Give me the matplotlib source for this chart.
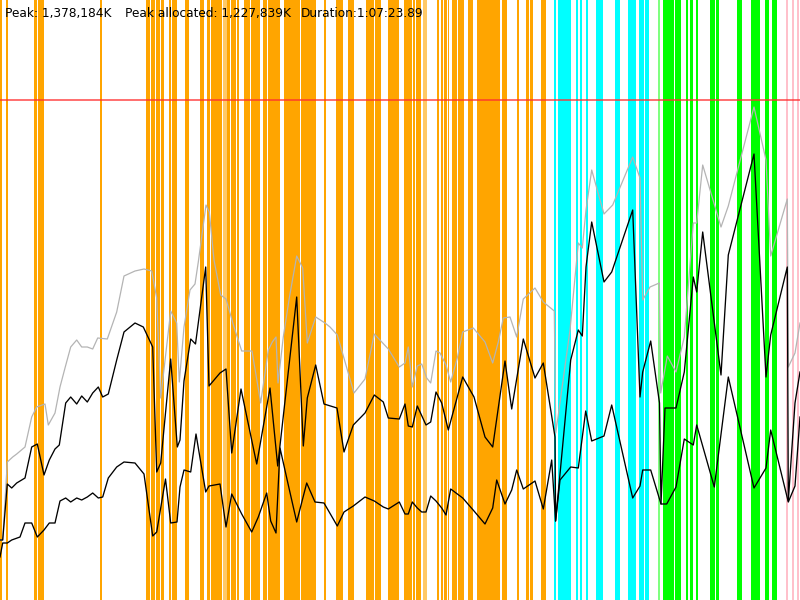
import matplotlib
matplotlib.use("Agg")
import matplotlib.pyplot as plt

# ---- event bands (time units, start/end) ----
orange_events = [
    (0, 2), (6, 7.3), (34, 37), (38, 44), (100, 101.3),
    (146, 150), (151.3, 154.7), (156.7, 160), (161, 163.7), (169, 171), (172.3, 174.7),
    (175.3, 176.7), (185, 188.3), (200.7, 203.3), (207, 210), (211.3, 222), (227.3, 230),
    (231, 233.3), (234.3, 236), (237, 238.7), (244, 246.7), (247.7, 250), (251.3, 259.3),
    (263.3, 266.7), (268, 280), (284, 288.7), (289.7, 296.7), (297.7, 300), (301.3, 304.7),
    (305.3, 313.3), (314, 315.3), (324, 326),
    (336.7, 342.7), (348, 352), (352.7, 354), (366.7, 369.3), (370.7, 373.7), (375.7, 381),
    (388.7, 391.3), (392, 396), (396.7, 398.7), (404, 411.3), (413.3, 414.3), (416.7, 418.7),
    (419.3, 420.7), (437.3, 438.7), (441, 442.7), (444.7, 446.3), (448, 449), (452, 455),
    (455.7, 457), (458.3, 464), (468, 473), (477, 483.7), (484.7, 491.3), (492, 493.3),
    (494, 496.7), (497.7, 500), (502.3, 507), (517, 518.7), (526.7, 529), (530.7, 532.7),
    (541.3, 546),
]
orange_faint = [(223.7, 226.7), (423.7, 426.7)]
cyan_events = [
    (554, 555.3), (558, 566.7), (567.3, 568.7), (569.3, 570.7), (576, 578), (580, 581.7),
    (586, 588), (596, 600.7), (601.7, 602.7), (615.3, 619.3), (628, 633.3), (634, 635.3),
    (639, 643.3), (645.3, 649),
]
green_faint = [(658, 660)]
green_events = [
    (663.3, 674), (675, 678.3), (678.7, 680.7), (686, 688), (690.7, 692.7), (696, 698),
    (710.3, 715), (716, 718.7), (737.3, 742), (751.3, 756.7), (757.7, 760), (765.3, 768.7),
    (772, 776.7),
]
pink_events = [(786.7, 788), (792, 793.7), (797.3, 798.7)]

# ---- memory series (units: peak = 500) ----
gray_t = [0, 2.7, 7.3, 12.7, 16.7, 25, 31.7, 36.7, 45, 48.3, 55, 60, 65, 70.7, 76.7, 81.7,
          87.3, 92.7, 97.7, 107.3, 116.7, 124, 135, 144, 151.7, 156.7, 160.7, 170.7, 176.7,
          179.3, 184, 190, 195, 198.3, 206, 209.3, 214, 220.7, 226, 234, 241.7, 252, 260.7,
          268.3, 272.3, 276, 278, 283.3, 289.3, 296.7, 302.7, 307.3, 315.7, 325, 330, 337.3,
          354, 365, 374.3, 388.3, 399.3, 405, 408.3, 412.3, 417.3, 421.7, 426.7, 430.7, 436,
          440, 446, 450.7, 457.3, 462.7, 473.3, 485, 492.7, 498.3, 503.3, 510, 516.7, 523.3,
          535, 543.3, 554.3, 555.8, 570, 578.3, 582.3, 586, 591.7, 604, 612.7, 632.7, 640,
          642.7, 650, 659.3, 660.7, 667.3, 676, 684.3, 693.3, 696.7, 702.7, 721, 728.3, 754,
          766, 770.7, 787.3, 788.3, 795, 800]
gray_v = [60, 60, 138, 143, 146, 153, 183, 193, 196, 175, 187, 213, 232, 253, 260, 253, 253,
          251, 262, 261, 288, 324, 329, 331, 329, 302, 202, 289, 277, 218, 273, 310, 316, 338,
          395, 388, 340, 305, 301, 273, 249, 249, 197, 250, 258, 263, 217, 263, 302, 344, 332,
          257, 283, 277, 273, 265, 207, 221, 266, 251, 233, 237, 253, 213, 234, 236, 222, 217,
          249, 247, 235, 218, 242, 268, 272, 258, 237, 258, 282, 283, 263, 301, 312, 298, 289,
          167, 270, 357, 352, 390, 430, 386, 395, 443, 422, 300, 313, 317, 207, 244, 228, 263,
          377, 377, 435, 373, 394, 493, 440, 344, 401, 233, 247, 277]

mid_t = [0, 2.7, 7.3, 11.7, 16.7, 25, 31.7, 37.3, 44, 49.3, 55, 59.3, 65.7, 70.7, 76.7, 81.7,
         87.3, 92.7, 98.3, 102.7, 108.3, 116.7, 124, 135, 143.3, 152.7, 156.7, 160.7, 170.7,
         177.3, 180, 184, 190.7, 195.5, 205.7, 209, 220, 226, 231.7, 241, 256.7, 270, 277.7,
         296.7, 303.3, 307.3, 315.7, 324, 337, 344, 353.3, 365, 374.3, 383.3, 388.3, 399.3,
         405, 408.3, 412.3, 417.3, 426, 430.7, 436, 441.7, 448.3, 462.7, 474, 485, 492.7, 505,
         511.7, 523.3, 535, 543.3, 555, 555.6, 570.7, 578.3, 582.3, 586, 591.7, 604, 611.7,
         632.7, 640, 642.7, 650.7, 659.5, 661, 665, 676, 684.3, 693.3, 696.7, 702.7, 721,
         728.3, 754, 766, 770.7, 787.3, 788.3, 795, 800]
mid_v = [60, 60, 116, 112, 117, 122, 153, 156, 125, 140, 151, 155, 197, 203, 196, 204, 198,
         207, 213, 203, 206, 240, 268, 277, 273, 253, 128, 137, 241, 153, 160, 219, 261, 256,
         333, 214, 227, 231, 147, 211, 136, 212, 134, 303, 154, 202, 235, 196, 192, 148, 175,
         187, 205, 198, 182, 181, 196, 174, 173, 194, 175, 178, 208, 197, 170, 223, 203, 163,
         153, 239, 191, 261, 222, 237, 163, 79, 240, 270, 264, 333, 378, 318, 328, 390, 203,
         228, 259, 197, 96, 192, 192, 228, 323, 308, 368, 225, 345, 446, 223, 265, 333, 99,
         197, 228]

low_t = [0, 2.7, 7.3, 11.7, 20, 25, 31.7, 37.3, 44, 49.3, 55, 60, 65.7, 70.7, 76.7, 81.7,
         87.3, 92.7, 98.3, 102.7, 108.3, 116.7, 124, 135, 144, 152.7, 156.7, 165.5, 170.7, 177,
         180, 184, 190.7, 196, 205.7, 209, 220, 226, 231.7, 241.7, 251.7, 258.3, 266.7, 270.7,
         276, 280, 288.3, 296.7, 306.7, 315, 324, 337.3, 344, 353.3, 365, 374.3, 383.3, 388.3,
         399.3, 405, 408.3, 412.3, 417.3, 421.7, 426, 430.7, 436, 441.7, 446, 450.7, 462.7,
         474, 485, 492.7, 496.7, 505, 511.7, 516.7, 523.3, 535, 543.3, 551.7, 555.6, 560,
         570.7, 578.3, 585.7, 591.7, 604, 611.7, 632.7, 640, 642.7, 650.7, 661, 666.7, 676,
         684.3, 693.3, 696.7, 714.3, 728.3, 754, 766, 770.7, 788.3, 795, 800]
low_v = [43, 57, 57, 60, 63, 77, 77, 63, 70, 77, 77, 99, 102, 98, 102, 100, 103, 107, 102,
         103, 122, 133, 138, 137, 126, 64, 68, 121, 77, 78, 113, 130, 128, 166, 108, 114, 116,
         73, 106, 86, 68, 83, 107, 79, 67, 152, 115, 78, 117, 98, 97, 74, 88, 94, 103, 99, 93,
         91, 98, 86, 86, 98, 92, 88, 88, 104, 99, 92, 85, 111, 102, 89, 76, 92, 120, 96, 110,
         130, 111, 119, 91, 140, 79, 120, 133, 132, 189, 159, 164, 195, 102, 114, 130, 130, 96,
         96, 113, 161, 155, 175, 113, 223, 112, 132, 170, 98, 114, 183]

peak_level = 500
peak_text = "Peak: 1,378,184K"
alloc_text = "Peak allocated: 1,227,839K"
duration_text = "Duration:1:07:23.89"

fig = plt.figure(figsize=(8, 6), dpi=100)
ax = fig.add_axes([0, 0, 1, 1])
ax.set_xlim(0, 800)
ax.set_ylim(0, 600)
ax.axis("off")

PAD = 0.35

def bands(events, color, alpha=1.0):
    for a, b in events:
        ax.axvspan(a - PAD, b + PAD, color=color, alpha=alpha, lw=0, zorder=1)

bands(orange_events, "#FFA500")
bands(orange_faint, "#FFA500", 0.6)
bands(cyan_events, "#00FFFF")
bands(green_events, "#00FF00")
bands(green_faint, "#00FF00", 0.5)
bands(pink_events, "#FFC0CB")

ax.axhline(peak_level, color="#FF3030", alpha=0.7, lw=1.4, zorder=2)

ax.plot(gray_t, gray_v, color="#b4b4b4", lw=0.9, zorder=3)
ax.plot(mid_t, mid_v, color="black", lw=0.95, zorder=4)
ax.plot(low_t, low_v, color="black", lw=0.95, zorder=4)

for x, s in [(5, peak_text), (125, alloc_text), (301, duration_text)]:
    ax.text(x, 583, s, fontsize=8.7, family="DejaVu Sans", color="black",
            ha="left", va="baseline", zorder=5)

fig.savefig("out.png", dpi=100)
